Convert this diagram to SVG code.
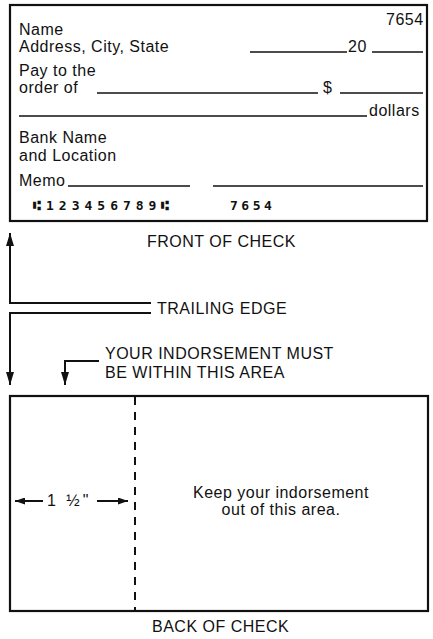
<svg xmlns="http://www.w3.org/2000/svg" width="433" height="639" viewBox="0 0 433 639">
<defs>
<style>
.t{font-family:"Liberation Sans",Arial,sans-serif;font-size:16px;letter-spacing:0.5px;fill:#111}
.frac{letter-spacing:3px}
.micr{font-family:"DejaVu Sans Mono",monospace;font-size:13px;font-weight:bold;fill:#111}
.box{fill:#fff;stroke:#111;stroke-width:2.2}
.ul{stroke:#111;stroke-width:1.7;fill:none}
.c{stroke:#111;stroke-width:2;fill:none}
.dash{stroke:#111;stroke-width:2;stroke-dasharray:8 7;fill:none}
</style>
<marker id="ah" viewBox="0 0 13 8" refX="13" refY="4" markerWidth="13" markerHeight="8" markerUnits="userSpaceOnUse" orient="auto">
<path d="M0,0 L13,4 L0,8 z" fill="#111"/>
</marker>
<marker id="ahs" viewBox="0 0 10 7" refX="10" refY="3.5" markerWidth="10" markerHeight="7" markerUnits="userSpaceOnUse" orient="auto">
<path d="M0,0 L10,3.5 L0,7 z" fill="#111"/>
</marker>
</defs>
<rect width="433" height="639" fill="#fff"/>

<g id="front-check">
<rect class="box" x="10" y="5" width="417" height="216"/>
<text class="t" x="386" y="25">7654</text>
<text class="t" x="19" y="34.5">Name</text>
<text class="t" x="19" y="52">Address, City, State</text>
<line class="ul" x1="250" y1="52" x2="347" y2="52"/>
<text class="t" x="348" y="52">20</text>
<line class="ul" x1="372" y1="52" x2="423" y2="52"/>
<text class="t" x="19" y="75.5">Pay to the</text>
<text class="t" x="19" y="93">order of</text>
<line class="ul" x1="97" y1="93" x2="318" y2="93"/>
<text class="t" x="323" y="93">$</text>
<line class="ul" x1="340" y1="93" x2="423" y2="93"/>
<line class="ul" x1="19" y1="116" x2="367" y2="116"/>
<text class="t" x="369" y="116">dollars</text>
<text class="t" x="19" y="143">Bank Name</text>
<text class="t" x="19" y="160.5">and Location</text>
<text class="t" x="19" y="186">Memo</text>
<line class="ul" x1="68" y1="186" x2="190" y2="186"/>
<line class="ul" x1="213" y1="186" x2="423" y2="186"/>
<text class="micr" x="33" y="210" letter-spacing="5">⑆123456789⑆</text>
<text class="micr" x="230" y="210" letter-spacing="3.5">7654</text>
</g>

<g id="front-label">
<text class="t" x="147" y="247">FRONT OF CHECK</text>
</g>

<g id="trailing-edge-label">
<text class="t" x="157" y="313.5">TRAILING EDGE</text>
</g>

<g id="indorsement-label">
<text class="t" x="105" y="358.5">YOUR INDORSEMENT MUST</text>
<text class="t" x="105" y="378">BE WITHIN THIS AREA</text>
</g>

<g id="back-check">
<rect class="box" x="10" y="396" width="418" height="215"/>
<text class="t frac" x="47" y="506">1 ½"</text>
<text class="t" x="281" y="498" text-anchor="middle">Keep your indorsement</text>
<text class="t" x="281" y="515" text-anchor="middle">out of this area.</text>
</g>

<g id="back-label">
<text class="t" x="152" y="632">BACK OF CHECK</text>
</g>

<g id="connectors">
<path class="c" d="M151,303 H10 V233" marker-end="url(#ah)"/>
<path class="c" d="M151,313 H10 V385" marker-end="url(#ah)"/>
<path class="c" d="M99,361 H65 V385" marker-end="url(#ah)"/>
<line class="dash" x1="135" y1="397" x2="135" y2="611"/>
<line class="c" x1="43" y1="501" x2="15" y2="501" marker-end="url(#ahs)"/>
<line class="c" x1="97" y1="501" x2="128" y2="501" marker-end="url(#ahs)"/>
</g>
</svg>
